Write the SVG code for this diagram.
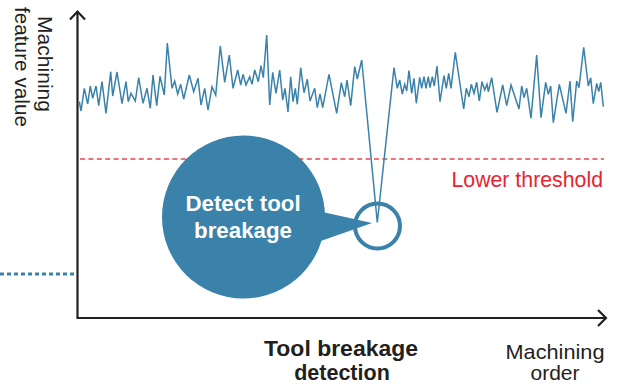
<svg xmlns="http://www.w3.org/2000/svg" width="619" height="385" viewBox="0 0 619 385">
<style>
.axis{fill:none;stroke:#231f20;stroke-width:2.2;stroke-linecap:butt;stroke-linejoin:miter}
.lbl{font-family:"Liberation Sans",Arial,sans-serif;fill:#231f20}
.bold{font-weight:bold}
.sig{fill:none;stroke:#3a82aa;stroke-width:1.5;stroke-linejoin:miter}
</style>
<rect width="619" height="385" fill="#ffffff"/>
<g id="axes">
<polyline class="axis" points="77.5,318 77.5,11.5"/>
<polyline class="axis" points="70,19.5 77.5,11.5 85,19.5"/>
<polyline class="axis" points="76.5,318 606,318"/>
<polyline class="axis" points="598,310 606,318 598,326"/>
</g>
<g id="y-label">
<text class="lbl" font-size="21" text-anchor="middle" transform="translate(38,64) rotate(90)" textLength="96" lengthAdjust="spacingAndGlyphs">Machining</text>
<text class="lbl" font-size="21" text-anchor="middle" transform="translate(15,67) rotate(90)" textLength="120" lengthAdjust="spacingAndGlyphs">feature value</text>
</g>
<g id="x-label">
<text class="lbl" font-size="21" text-anchor="middle" x="555" y="359" textLength="99" lengthAdjust="spacingAndGlyphs">Machining</text>
<text class="lbl" font-size="21" text-anchor="middle" x="555" y="380">order</text>
</g>
<g id="threshold">
<line x1="80" y1="159" x2="604" y2="159" stroke="#e8474f" stroke-width="1.5" stroke-dasharray="5 3.4"/>
<text class="lbl" font-size="21.3" text-anchor="end" x="603" y="187" style="fill:#e8242f">Lower threshold</text>
</g>
<g id="connectors">
<line x1="0" y1="274" x2="76" y2="274" stroke="#3a82aa" stroke-width="3" stroke-dasharray="4 3"/>
</g>
<g id="signal">
<polyline class="sig" points="79.3,101.7 81,111 84.3,88.3 87.7,104 90.3,86 92.7,98.3 96,86 98.7,105.7 102,81.7 106,113.3 110.7,71.7 112.7,96 117,72 122,103.7 126,81.7 128.3,101.7 131,93.3 135.3,101 138.7,77.7 143,103.3 147,88.3 150.3,108.3 153,75 156.7,105.7 160,76.3 164.3,95 167.3,43 172,88.3 174.7,81 177.7,94 180.7,84.3 183.7,99 189.3,75 193.7,91.7 198,78.3 201,105 204.7,88.3 208,110 212,86.7 215.7,95 220.3,46 224.7,82.3 229.3,55 233,88.3 237.7,70 240.7,85 243,74.3 246,85 249.7,76.7 252,84.3 254.7,70 258.3,81.7 261,65.7 263.3,77.7 266.7,35 269.7,105 272.7,72.3 276,93.3 279.7,70 282.7,100 285,88.3 288,112 290.7,76.7 293,101.7 295.3,88.3 297.3,104.3 300.7,67.7 304,92.7 307.3,79.3 310,101 314.7,88.3 317.3,107.7 320,94 322.7,107.7 329,74.3 336.7,113.3 341.3,82.7 344.7,96.7 347,80 350.7,105.7 354.7,66.7 357.3,79 361.7,60 377.3,222.5 394,67.7 397.3,88.3 399.7,80 402.3,94 404.7,84.3 406.7,91 409,70.7 411.7,93.3 414,78.3 416.3,103.3 419.7,77.3 421.7,88.3 424,76.7 426,88.3 428.3,76.7 430,87.7 432.3,76.7 434.3,86 437,66 440,101.7 444,75.7 446.3,88.3 448.7,73.3 451,88.3 455.3,52.3 463.7,109 466.3,88.3 469,96.7 471.3,84.3 474,93.3 476.7,82.3 479.3,101 482,81.7 484.7,90 487,84.3 488.3,91.7 491.7,77.7 497,112.3 502.7,85 506.7,105.7 511,85 519,109 521.7,86 524,97.7 526.7,88.3 531,118.3 536.7,55 541,117.7 545.7,82.3 548.3,94.3 550.7,86 553.3,122.7 559.3,84.3 566,113.3 570,81 572.7,121.7 576.7,81 579,87.7 583.7,47.3 588.3,86 590.7,77.7 593.3,103.7 596.7,83.3 598.7,91.7 600.7,82.3 603.3,106.7"/>
</g>
<g id="detect-callout">
<circle cx="243.5" cy="217" r="81.5" fill="#3a82aa"/>
<polygon points="318,211 372,223 318,242" fill="#3a82aa"/>
<text class="lbl bold" font-size="22.3" text-anchor="middle" x="243" y="211" style="fill:#ffffff">Detect tool</text>
<text class="lbl bold" font-size="22.3" text-anchor="middle" x="243" y="238" style="fill:#ffffff">breakage</text>
</g>
<g id="breakage-marker">
<circle cx="377.5" cy="226" r="22.5" fill="none" stroke="#3a82aa" stroke-width="4"/>
</g>
<g id="title">
<text class="lbl bold" font-size="21.5" text-anchor="middle" x="341" y="356" textLength="154" lengthAdjust="spacingAndGlyphs">Tool breakage</text>
<text class="lbl bold" font-size="21.5" text-anchor="middle" x="342" y="380.3">detection</text>
</g>
</svg>
